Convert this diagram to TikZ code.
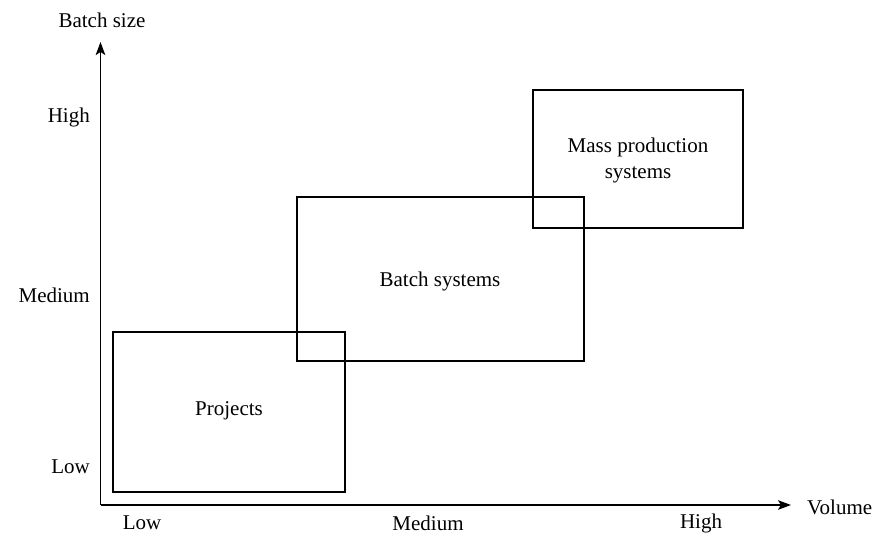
\documentclass[tikz,border=0pt]{standalone}
\usepackage{fontspec}
\setmainfont{Liberation Serif}
\usetikzlibrary{arrows.meta}
\begin{document}
\begin{tikzpicture}[x=1pt,y=-1pt,
  every node/.style={font=\fontsize{21}{25}\selectfont, inner sep=0pt},
  region/.style={draw, line width=1.5pt},
  axis/.style={line width=1.6pt, -{Stealth[length=13pt,width=9.5pt,inset=3pt]}},
  tick/.style={anchor=center}]
\useasboundingbox (0,0) rectangle (882,534);
% axes
\coordinate (O) at (100.5,505);
\coordinate (ytop) at (100.5,42);
\coordinate (xend) at (791,505);
\draw[axis] (O) -- (ytop);
\draw[axis] (O) -- (xend);
\node (ylab) at (102,20) {Batch size};
\node[anchor=west] (xlab) at (807,507) {Volume};
% vertical scale
\node[anchor=east] (yhigh) at (90,117) {High};
\node[anchor=east] (ymed) at (90,295) {Medium};
\node[anchor=east] (ylow) at (90,467) {Low};
% horizontal scale
\node (xlow) at (142,523) {Low};
\node (xmed) at (428,523) {Medium};
\node (xhigh) at (701,523) {High};
% process regions
\draw[region] (113,332) rectangle (345,492);
\draw[region] (297,197) rectangle (584,361);
\draw[region] (533,90) rectangle (743,228);
\node (proj) at (229,411) {Projects};
\node (batch) at (440,281) {Batch systems};
\node[align=center, font=\fontsize{21}{26}\selectfont] (mass) at (638,160) {Mass production\\systems};
\end{tikzpicture}
\end{document}
